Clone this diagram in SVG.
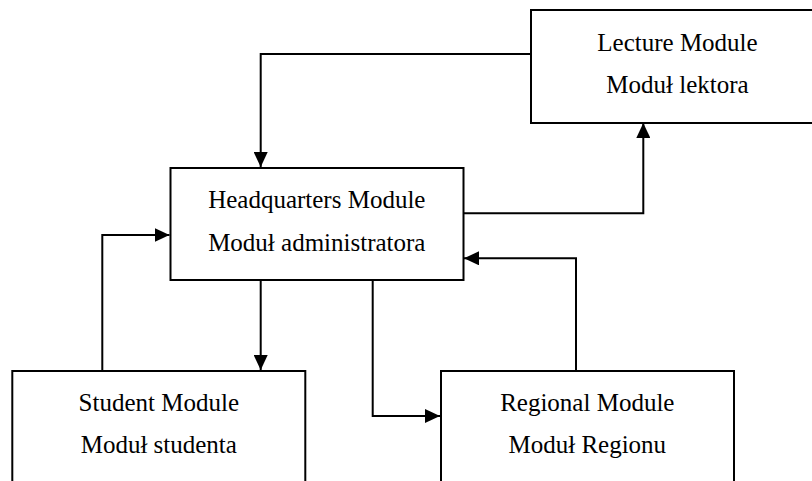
<svg xmlns="http://www.w3.org/2000/svg" width="812" height="481" viewBox="0 0 812 481">
<style>
.box{fill:#fff;stroke:#000;stroke-width:2}
.lbl{font-family:"Liberation Serif","Times New Roman",serif;font-size:25px;fill:#000;text-anchor:middle}
.conn{fill:none;stroke:#000;stroke-width:2;marker-end:url(#arr)}
</style>
<defs>
<marker id="arr" markerUnits="userSpaceOnUse" markerWidth="15" markerHeight="14" refX="15" refY="7" orient="auto">
<path d="M0,0 L15,7 L0,14 z" fill="#000"/>
</marker>
</defs>
<rect width="812" height="481" fill="#fff"/>
<g id="connectors">
<path class="conn" d="M531,54 H260.7 V167"/>
<path class="conn" d="M463.3,213.3 H643.3 V123"/>
<path class="conn" d="M576,371 V258.3 H464"/>
<path class="conn" d="M102.3,371 V235 H169.5"/>
<path class="conn" d="M260.7,280 V370"/>
<path class="conn" d="M372.7,280 V416 H440"/>
</g>
<g id="lecture">
<rect class="box" x="531" y="10" width="293" height="113"/>
<text class="lbl" x="677.5" y="50.7">Lecture Module</text>
<text class="lbl" x="677.5" y="93.3">Moduł lektora</text>
</g>
<g id="headquarters">
<rect class="box" x="170.5" y="168" width="293" height="112"/>
<text class="lbl" x="316.8" y="207.7">Headquarters Module</text>
<text class="lbl" x="316.8" y="250.7">Moduł administratora</text>
</g>
<g id="student">
<rect class="box" x="12.3" y="371" width="293" height="130"/>
<text class="lbl" x="158.8" y="410.7">Student Module</text>
<text class="lbl" x="158.8" y="453.3">Moduł studenta</text>
</g>
<g id="regional">
<rect class="box" x="441" y="371" width="293" height="130"/>
<text class="lbl" x="587.3" y="410.7">Regional Module</text>
<text class="lbl" x="587.3" y="453.3">Moduł Regionu</text>
</g>
</svg>
